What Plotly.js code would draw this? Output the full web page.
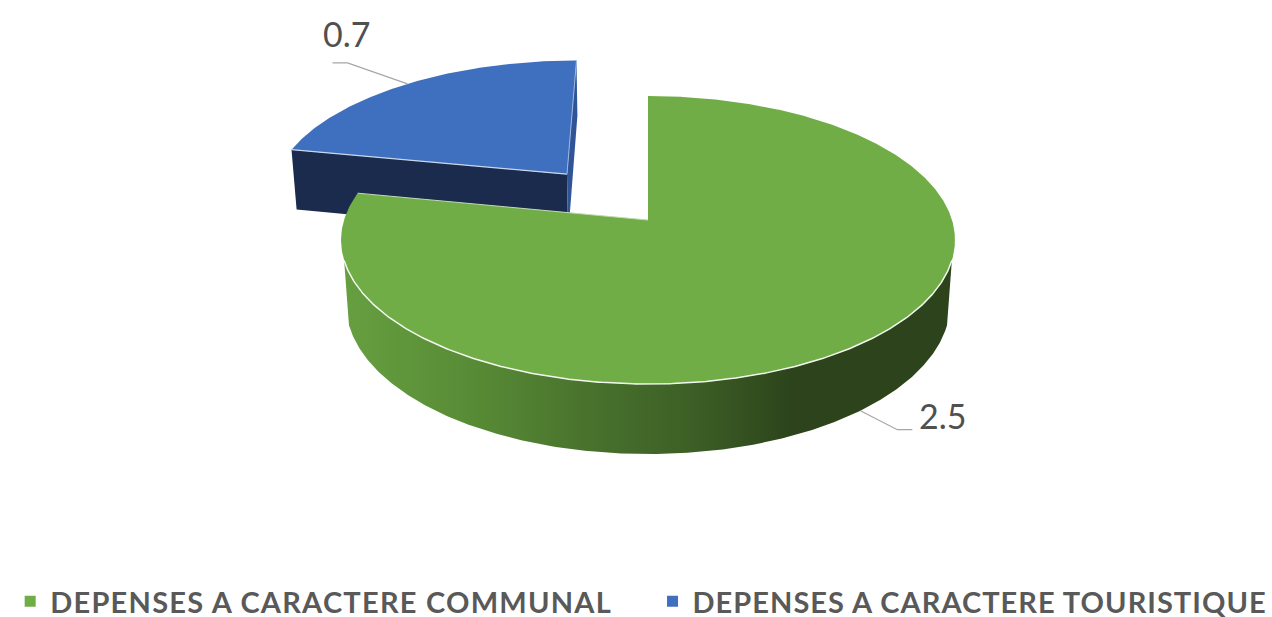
<!DOCTYPE html>
<html>
<head>
<meta charset="utf-8">
<script src="https://cdn.plot.ly/plotly-3.0.1.min.js"></script>
<style>html,body{margin:0;padding:0;background:#fff;overflow:hidden;height:617px}#chart{width:1272px;height:640px}.legendtext{letter-spacing:1.25px}.legend2text{letter-spacing:1.03px}</style>
</head>
<body>
<div id="chart"></div>
<script>
var categories = ["DEPENSES A CARACTERE COMMUNAL", "DEPENSES A CARACTERE TOURISTIQUE"];
var values = [2.5, 0.7];

// styles and pie geometry (plot units, origin at the pie's centre)
var topColors = ["#70AD47", "#3F6FBF"];
var K = 0.139, M = 0.0156, A = 304, B = 141.2, H = 64, BLUE_EXPLODE = 0.44;
var RIM = [106, 254];

function project(u, v, z) {
  var d = 1 + K * v + M * z;
  return [A * u / d, (B * v - H * z) / d];
}
function rad(deg) { return deg * Math.PI / 180; }
function arc(d0, d1, ox, oy, z) {
  var n = Math.max(2, Math.ceil(Math.abs(d1 - d0) * 2)), pts = [];
  for (var i = 0; i <= n; i++) {
    var t = rad(d0 + (d1 - d0) * i / n);
    pts.push(project(ox + Math.sin(t), oy + Math.cos(t), z));
  }
  return pts;
}
function poly(pts, fill, extra) {
  var tr = {
    x: pts.map(function (p) { return p[0]; }), y: pts.map(function (p) { return p[1]; }),
    mode: "lines", fill: "toself", fillcolor: fill, line: { width: 0, color: fill },
    hoverinfo: "skip", showlegend: false
  };
  for (var k in extra) tr[k] = extra[k];
  return tr;
}
function line(pts, color, width) {
  return {
    x: pts.map(function (p) { return p[0]; }), y: pts.map(function (p) { return p[1]; }),
    mode: "lines", line: { color: color, width: width }, hoverinfo: "skip", showlegend: false
  };
}

var total = values.reduce(function (a, b) { return a + b; }, 0);
var greenEnd = values[0] / total * 360;
var blueMid = (greenEnd + 360) / 2;
var bx = BLUE_EXPLODE * Math.sin(rad(blueMid)), by = BLUE_EXPLODE * Math.cos(rad(blueMid));
var gMid = greenEnd / 2;

// blue slice
var bApexT = project(bx, by, 0), bApexB = project(bx, by, 1);
var bLeftT = project(bx + Math.sin(rad(greenEnd)), by + Math.cos(rad(greenEnd)), 0);
var bLeftB = project(bx + Math.sin(rad(greenEnd)), by + Math.cos(rad(greenEnd)), 1);
var bBackT = project(bx, by + 1, 0), bBackB = project(bx, by + 1, 1);
var traces = [];
traces.push(poly([bLeftT, bApexT, bApexB, bLeftB, bLeftT], "#1A2B4E"));
traces.push(poly([bBackT, bApexT, bApexB, bBackB, bBackT], "#2F5597"));
var blueTop = arc(greenEnd, 360, bx, by, 0).concat([bApexT]);
blueTop.push(blueTop[0]);
traces.push(poly(blueTop, topColors[1]));
traces.push(line([bLeftT, bApexT], "#C9D6EC", 1.2));
traces.push(line([bBackT, bApexT], "#9DB5E0", 1));

// green slice: side wall with horizontal shading, then the top
var side = arc(RIM[0], RIM[1], 0, 0, 0).concat(arc(RIM[1], RIM[0], 0, 0, 1));
side.push(side[0]);
traces.push(poly(side, "#4F7A30", {
  fillgradient: {
    type: "horizontal",
    colorscale: [[0, "#669F40"], [0.22, "#578A35"], [0.42, "#47702C"], [0.58, "#3C5E25"], [0.74, "#2C431B"], [1, "#2C431B"]]
  }
}));
var greenTop = arc(0, greenEnd, 0, 0, 0).concat([project(0, 0, 0)]);
greenTop.push(greenTop[0]);
traces.push(poly(greenTop, topColors[0]));
traces.push(line([project(Math.sin(rad(greenEnd)), Math.cos(rad(greenEnd)), 0), project(0, 0, 0)], "#C5D8B5", 1));
traces.push(line(arc(RIM[0], RIM[1], 0, 0, 0), "#F4F8F0", 1.5));

// leader lines start on each slice's rim at its mid angle
var lb0 = project(bx + Math.sin(rad(blueMid)), by + Math.cos(rad(blueMid)), 0);
var lg0 = project(Math.sin(rad(gMid)), Math.cos(rad(gMid)), 1);
var lb = [lb0, [lb0[0] - 60, lb0[1] + 21], [lb0[0] - 75, lb0[1] + 21]];
var lg = [lg0, [lg0[0] + 37, lg0[1] - 19], [lg0[0] + 52, lg0[1] - 19]];
traces.push(line(lb, "#A6A6A6", 1.2));
traces.push(line(lg, "#A6A6A6", 1.2));

// legend entries, one legend each so they sit at their own positions
categories.forEach(function (c, i) {
  traces.push({
    x: [null], y: [null], name: c, mode: "markers", hoverinfo: "skip",
    legend: i === 0 ? "legend" : "legend2",
    marker: { symbol: "square", size: 11, color: topColors[i] }
  });
});

var labelFont = { family: "Lato, sans-serif", size: 34, color: "#505050" };
var legendFont = { family: "Lato, sans-serif", size: 29, weight: 700, color: "#595959" };
var layout = {
  width: 1272, height: 640,
  margin: { l: 0, r: 0, t: 0, b: 23, autoexpand: false },
  paper_bgcolor: "#fff", plot_bgcolor: "#fff",
  xaxis: { range: [-648, 624], visible: false, fixedrange: true },
  yaxis: { range: [-397, 220], visible: false, fixedrange: true },
  legend: { orientation: "h", x: 0.008, xanchor: "left", y: -0.016, yanchor: "bottom", font: legendFont, bgcolor: "rgba(0,0,0,0)" },
  legend2: { orientation: "h", x: 0.513, xanchor: "left", y: -0.016, yanchor: "bottom", font: legendFont, bgcolor: "rgba(0,0,0,0)" },
  annotations: [
    { x: lb[2][0] + 14, y: lb[2][1] + 29, xref: "x", yref: "y", text: String(values[1].toFixed(1)), showarrow: false, font: labelFont },
    { x: lg[2][0] + 30, y: lg[2][1] + 14, xref: "x", yref: "y", text: String(values[0].toFixed(1)), showarrow: false, font: labelFont }
  ]
};
Plotly.newPlot("chart", traces, layout, { displayModeBar: false, staticPlot: true });
</script>
</body>
</html>
